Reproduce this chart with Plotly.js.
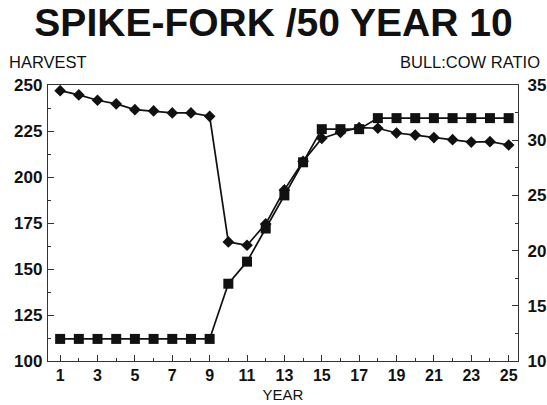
<!DOCTYPE html>
<html>
<head>
<meta charset="utf-8">
<script src="https://cdn.plot.ly/plotly-3.0.1.min.js"></script>
<style>html,body{margin:0;padding:0;background:#fff;}#chart{width:547px;height:405px;}</style>
</head>
<body>
<div id="chart"></div>
<script>
const years = [1,2,3,4,5,6,7,8,9,10,11,12,13,14,15,16,17,18,19,20,21,22,23,24,25];
const harvest = [246.9,244.6,241.7,239.7,236.6,235.9,234.8,234.8,233,164.7,162.9,174.5,193,208.5,221,224.3,226.8,226.5,223.9,222.8,221.4,220.3,219,219.2,217.4];
const bullCowRatio = [12,12,12,12,12,12,12,12,12,17,19,22,25,28,31,31,31,32,32,32,32,32,32,32,32];
const xTickVals = [1,3,5,7,9,11,13,15,17,19,21,23,25];
const leftTickVals = [100,125,150,175,200,225,250];
const rightTickVals = [10,15,20,25,30,35];

const FONT = 'Liberation Sans, Arial, sans-serif';
const tickFont = {family: FONT, size: 16, color: '#111', weight: 'bold'};
const yTickFont = {family: FONT, size: 17, color: '#111', weight: 'bold'};
const traces = [
  {x: years, y: harvest, yaxis: 'y', mode: 'lines+markers', type: 'scatter',
   line: {color: '#111', width: 1.7}, marker: {symbol: 'diamond', size: 9, color: '#111'}, showlegend: false},
  {x: years, y: bullCowRatio, yaxis: 'y2', mode: 'lines+markers', type: 'scatter',
   line: {color: '#111', width: 1.7}, marker: {symbol: 'square', size: 10, color: '#111'}, showlegend: false}
];
const layout = {
  width: 547, height: 405,
  margin: {l: 48, r: 29, t: 85, b: 44},
  paper_bgcolor: '#fff', plot_bgcolor: '#fff',
  title: {text: '<b>SPIKE-FORK /50 YEAR 10</b>', x: 0.5, xanchor: 'center', y: 0.945, yanchor: 'middle',
          font: {family: FONT, size: 39, color: '#111'}},
  xaxis: {range: [0.35, 25.5], tickvals: xTickVals, ticktext: xTickVals.map(String),
          ticks: 'inside', ticklen: 6, tickcolor: '#333', showgrid: false, zeroline: false,
          showline: true, linecolor: '#333', linewidth: 1.2, mirror: true,
          minor: {dtick: 1, ticks: 'inside', ticklen: 3, tickcolor: '#333'},
          tickfont: tickFont,
          title: {text: 'YEAR', standoff: 6, font: {family: FONT, size: 15, color: '#111'}}},
  yaxis: {range: [100, 250], tickvals: leftTickVals, ticks: 'inside', ticklen: 6, tickcolor: '#333',
          showgrid: false, zeroline: false, showline: true, linecolor: '#333', linewidth: 1.2,
          minor: {dtick: 12.5, ticks: 'inside', ticklen: 3, tickcolor: '#333'},
          tickfont: yTickFont, ticklabelstandoff: 1},
  yaxis2: {range: [10, 35], tickvals: rightTickVals, overlaying: 'y', side: 'right',
           ticks: 'inside', ticklen: 6, tickcolor: '#333', showgrid: false, zeroline: false,
           showline: true, linecolor: '#333', linewidth: 1.2,
           minor: {dtick: 2.5, ticks: 'inside', ticklen: 3, tickcolor: '#333'},
           tickfont: yTickFont, ticklabelstandoff: 5},
  annotations: [
    {text: 'HARVEST', xref: 'paper', yref: 'paper', x: -0.088, y: 1.085, xanchor: 'left', yanchor: 'middle',
     showarrow: false, font: {family: FONT, size: 16.5, color: '#111'}},
    {text: 'BULL:COW RATIO', xref: 'paper', yref: 'paper', x: 1.05, y: 1.085, xanchor: 'right', yanchor: 'middle',
     showarrow: false, font: {family: FONT, size: 16.5, color: '#111'}}
  ]
};
Plotly.newPlot('chart', traces, layout, {staticPlot: true, displayModeBar: false});
</script>
</body>
</html>
